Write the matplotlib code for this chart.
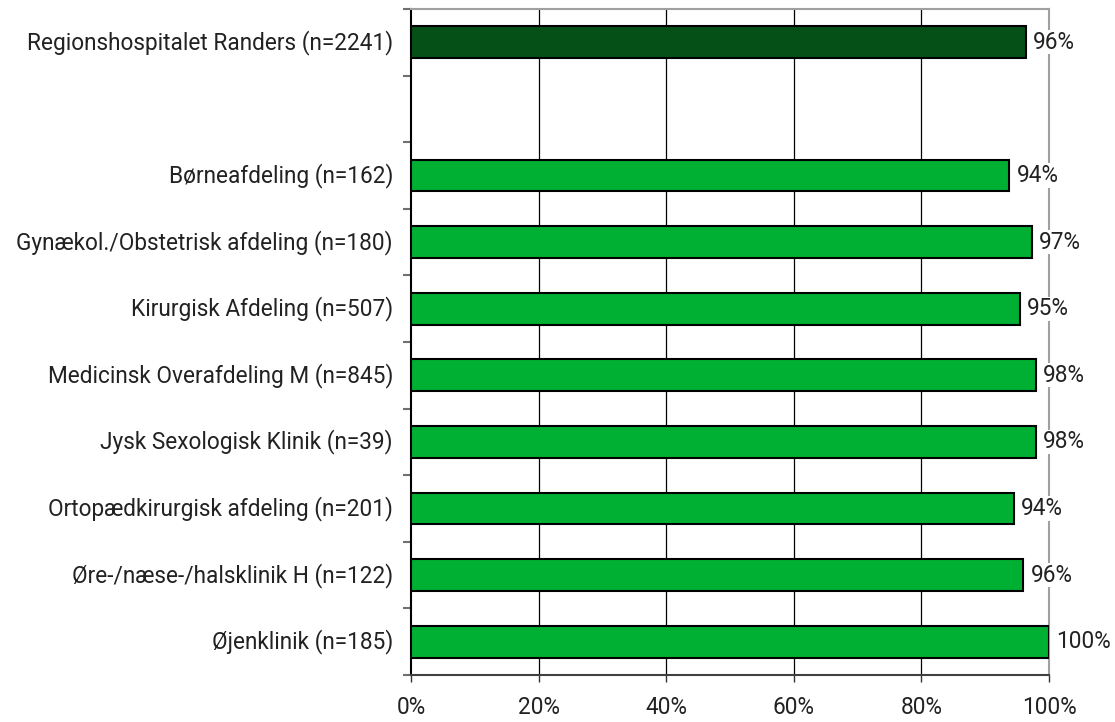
import matplotlib
matplotlib.use("Agg")
import matplotlib.pyplot as plt
import matplotlib.transforms as mtransforms
from matplotlib.ticker import FixedLocator, FuncFormatter

plt.rcParams['font.family'] = ['Roboto', 'DejaVu Sans']

# data (top to bottom), None = empty slot
labels = [
    "Regionshospitalet Randers (n=2241)",
    "",
    "Børneafdeling (n=162)",
    "Gynækol./Obstetrisk afdeling (n=180)",
    "Kirurgisk Afdeling (n=507)",
    "Medicinsk Overafdeling M (n=845)",
    "Jysk Sexologisk Klinik (n=39)",
    "Ortopædkirurgisk afdeling (n=201)",
    "Øre-/næse-/halsklinik H (n=122)",
    "Øjenklinik (n=185)",
]
values = [96.4, None, 93.8, 97.3, 95.4, 97.9, 97.9, 94.5, 96.0, 100.0]
shown = ["96%", "", "94%", "97%", "95%", "98%", "98%", "94%", "96%", "100%"]
colors = ["#045016"] + ["#00B033"] * 9

fs = 16.3

fig = plt.figure(figsize=(11.15, 7.22), dpi=100)
ax = fig.add_axes([411 / 1115, 1 - 675 / 722, 638 / 1115, 666 / 722])

for i, v in enumerate(values):
    if v is None:
        continue
    ax.barh(i, v, height=0.48, color=colors[i], edgecolor="black", linewidth=1.5, zorder=3)
    ax.text(v + 1.1, i, shown[i], va="center", ha="left", fontsize=fs, color="#222222",
            zorder=5, bbox=dict(facecolor="white", edgecolor="none", pad=0.5))

ax.set_xlim(0, 100)
ax.set_ylim(9.5, -0.5)

ax.set_xticks(range(0, 101, 20))
ax.xaxis.set_major_formatter(FuncFormatter(lambda x, p: f"{int(x)}%"))
ax.set_yticks(range(len(labels)))
ax.set_yticklabels(labels)
ax.yaxis.set_minor_locator(FixedLocator([i - 0.5 for i in range(len(labels) + 1)]))

ax.tick_params(axis="y", which="major", length=0, pad=13, labelsize=fs, labelcolor="#222222")
ax.tick_params(axis="y", which="minor", length=6, width=1.5, color="#707070", direction="out")
ax.tick_params(axis="x", length=5, width=1, color="#333333", direction="out",
               pad=10, labelsize=fs, labelcolor="#222222")

# nudge y labels up a little so they sit centred on the bars
shift = mtransforms.ScaledTranslation(0, 2 / 72, fig.dpi_scale_trans)
for lbl in ax.get_yticklabels():
    lbl.set_transform(lbl.get_transform() + shift)

for x in range(20, 100, 20):
    ax.axvline(x, color="black", linewidth=0.9, zorder=1)

ax.spines["left"].set_color("black")
ax.spines["left"].set_linewidth(1.5)
ax.spines["bottom"].set_color("#404040")
ax.spines["bottom"].set_linewidth(1.5)
ax.spines["top"].set_color("#a0a0a0")
ax.spines["top"].set_linewidth(1.5)
ax.spines["right"].set_color("#a0a0a0")
ax.spines["right"].set_linewidth(1.5)
ax.spines["right"].set_zorder(2)

fig.savefig("out.png", dpi=100)
